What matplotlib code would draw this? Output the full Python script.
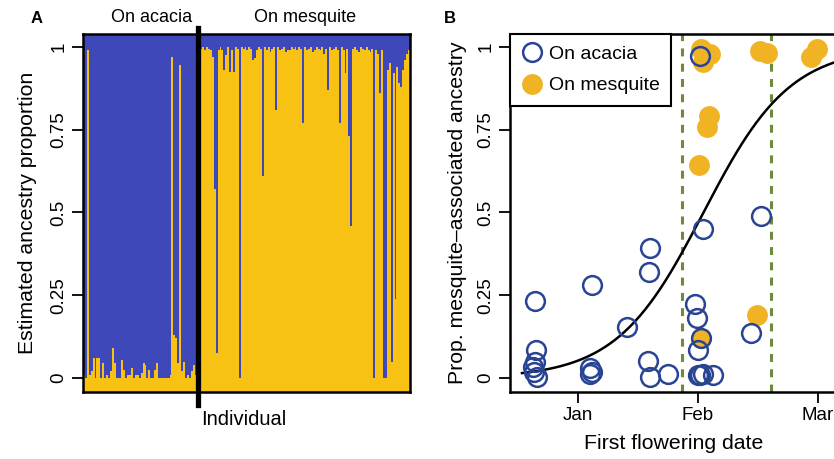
import numpy as np
import matplotlib
matplotlib.use("Agg")
import matplotlib.pyplot as plt
from matplotlib.lines import Line2D

plt.rcParams["font.family"] = ["Liberation Sans", "DejaVu Sans"]

# -----------------------------
# data: panel A (mesquite ancestry per individual)
# -----------------------------
acacia_mesq = [0.01, 0.0, 0.99, 0.01, 0.02, 0.06, 0.0, 0.06, 0.06, 0.0,
               0.045, 0.0, 0.01, 0.0, 0.02, 0.09, 0.045, 0.0, 0.0, 0.0,
               0.055, 0.025, 0.0, 0.01, 0.01, 0.03, 0.0, 0.01, 0.01, 0.0,
               0.015, 0.045, 0.04, 0.0, 0.025, 0.0, 0.0, 0.025, 0.045, 0.0,
               0.0, 0.0, 0.0, 0.0, 0.0, 0.01, 0.97, 0.13, 0.12, 0.045,
               0.945, 0.02, 0.05, 0.0, 0.01, 0.0, 0.02, 0.04, 0.01, 0.01]

mesquite_mesq = [1.0, 0.995, 1.0, 0.99, 1.0, 0.995, 0.99, 0.97, 0.57, 0.075,
                 0.99, 1.0, 0.99, 0.93, 0.975, 1.0, 0.925, 0.99, 0.925, 1.0,
                 0.995, 0.0, 1.0, 0.995, 1.0, 0.99, 1.0, 0.995, 0.96, 0.965,
                 0.99, 1.0, 0.995, 0.61, 1.0, 0.99, 1.0, 0.985, 0.995, 1.0,
                 0.81, 1.0, 0.99, 0.995, 1.0, 0.985, 0.99, 0.99, 1.0, 0.995,
                 1.0, 0.99, 1.0, 0.995, 0.77, 1.0, 0.99, 0.995, 1.0, 0.985,
                 0.99, 1.0, 0.995, 0.99, 1.0, 0.98, 0.995, 0.87, 1.0, 0.99,
                 0.995, 1.0, 0.99, 0.77, 1.0, 0.99, 0.92, 0.995, 0.73, 0.46,
                 0.995, 1.0, 0.99, 0.985, 1.0, 0.995, 0.99, 1.0, 0.99, 0.985,
                 0.995, 0.0, 0.99, 0.98, 0.86, 0.99, 0.0, 0.0, 0.93, 0.95,
                 0.05, 0.92, 0.24, 0.94, 0.89, 0.88, 0.93, 0.96, 0.98, 0.99]

# -----------------------------
# data: panel B (first flowering day, 0 = Jan 1, 30 days per month tick)
# -----------------------------
acacia_day = [-10.75, -10.5, -10.75, -11.2, -11.0, -10.3,
              3.4, 3.0, 3.4, 3.0,
              12.2, 18.0, 17.8, 17.6, 18.0, 22.5,
              31.3, 29.25, 29.8, 30.9, 30.1, 30.1, 31.3, 33.8, 30.5,
              43.2, 45.7, 30.5]
acacia_prop = [0.232, 0.084, 0.049, 0.032, 0.019, 0.004,
               0.28, 0.029, 0.019, 0.012,
               0.155, 0.394, 0.32, 0.052, 0.004, 0.012,
               0.451, 0.225, 0.18, 0.12, 0.086, 0.009, 0.012, 0.009, 0.008,
               0.137, 0.489, 0.973]

mesquite_day = [30.9, 44.7, 30.3, 32.2, 32.8,
                31.75, 30.9, 33.0, 31.3, 45.5, 47.2, 59.7, 58.4]
mesquite_prop = [0.12, 0.19, 0.642, 0.757, 0.792,
                 0.973, 0.993, 0.978, 0.953, 0.988, 0.983, 0.993, 0.968]

# logistic fit (intercept, slope per day)
fit_a, fit_b = -2.89, 0.092
window = [26.0, 48.25]

month_pos = [0, 30, 60]
month_lab = ["Jan", "Feb", "Mar"]

BLUE_BAR = "#3E48B8"
YEL_BAR = "#F8C214"
BLUE_PT = "#2A4494"
YEL_PT = "#F0B323"
GREEN = "#6E8B3D"

LAB = 15.3

fig = plt.figure(figsize=(8.34, 4.59), dpi=100)

# -----------------------------
# panel A
# -----------------------------
axA = fig.add_axes([0.0995, 0.146, 0.392, 0.780])
vals = np.array(acacia_mesq + mesquite_mesq)
x = np.arange(len(vals))
ylo, yhi = -0.042, 1.039
axA.bar(x, vals - ylo, bottom=ylo, width=1.0, color=YEL_BAR, linewidth=0)
axA.bar(x, yhi - vals, bottom=vals, width=1.0, color=BLUE_BAR, linewidth=0)
axA.set_xlim(-0.5, len(vals) - 0.5)
axA.set_ylim(ylo, yhi)
split = len(acacia_mesq) - 0.5
axA.axvline(split, ymin=-0.036, ymax=1.017, color="black", lw=3.8, clip_on=False)
axA.set_xticks([])
axA.set_yticks([0, 0.25, 0.5, 0.75, 1])
axA.set_yticklabels(["0", "0.25", "0.5", "0.75", "1"], rotation=90, va="center")
axA.tick_params(axis="y", length=8, width=1.3, labelsize=13.5, pad=3)
for s in axA.spines.values():
    s.set_linewidth(1.8)
axA.set_ylabel("Estimated ancestry proportion", fontsize=LAB, labelpad=10)
axA.text(35, 1.045, "On acacia", transform=axA.get_xaxis_transform(),
         ha="center", va="center", fontsize=13)
axA.text((split + len(vals)) / 2, 1.045, "On mesquite", transform=axA.get_xaxis_transform(),
         ha="center", va="center", fontsize=13)
axA.text(split + 1.5, -0.078, "Individual", transform=axA.get_xaxis_transform(),
         ha="left", va="center", fontsize=14.5)
fig.text(0.044, 0.96, "A", fontsize=12, fontweight="bold", ha="center", va="center")

# -----------------------------
# panel B
# -----------------------------
axB = fig.add_axes([0.6115, 0.146, 0.393, 0.780])
axB.set_xlim(-17, 65)
axB.set_ylim(ylo, yhi)
for w in window:
    axB.axvline(w, color=GREEN, lw=2.2, dashes=(2.6, 2.4), zorder=1)
xc = np.linspace(-14, 70, 200)
axB.plot(xc, 1 / (1 + np.exp(-(fit_a + fit_b * xc))), color="black", lw=1.8, zorder=2)
axB.plot(mesquite_day, mesquite_prop, "o", ms=15, color=YEL_PT, mec="none", zorder=3)
axB.plot(acacia_day, acacia_prop, "o", ms=13.5, mfc="none", mec=BLUE_PT, mew=1.8, zorder=4)
axB.set_xticks(month_pos)
axB.set_xticklabels(month_lab)
axB.set_yticks([0, 0.25, 0.5, 0.75, 1])
axB.set_yticklabels(["0", "0.25", "0.5", "0.75", "1"], rotation=90, va="center")
axB.tick_params(length=8, width=1.3, labelsize=13.5, pad=3)
for s in axB.spines.values():
    s.set_linewidth(1.8)
axB.set_ylabel("Prop. mesquite\u2013associated ancestry", fontsize=LAB, labelpad=8)
axB.set_xlabel("First flowering date", fontsize=LAB, labelpad=7)
handles = [Line2D([], [], ls="none", marker="o", ms=13.5, mfc="none", mec=BLUE_PT, mew=1.8),
           Line2D([], [], ls="none", marker="o", ms=15, color=YEL_PT, mec="none")]
leg = axB.legend(handles, ["On acacia", "On mesquite"], loc="upper left",
                 borderaxespad=0, fontsize=14, fancybox=False, handletextpad=0.3,
                 handlelength=1.1, borderpad=0.6, labelspacing=0.7, framealpha=1)
leg.get_frame().set_edgecolor("black")
leg.get_frame().set_linewidth(1.5)
fig.text(0.54, 0.96, "B", fontsize=12, fontweight="bold", ha="center", va="center")

fig.savefig("out.png", dpi=100)
